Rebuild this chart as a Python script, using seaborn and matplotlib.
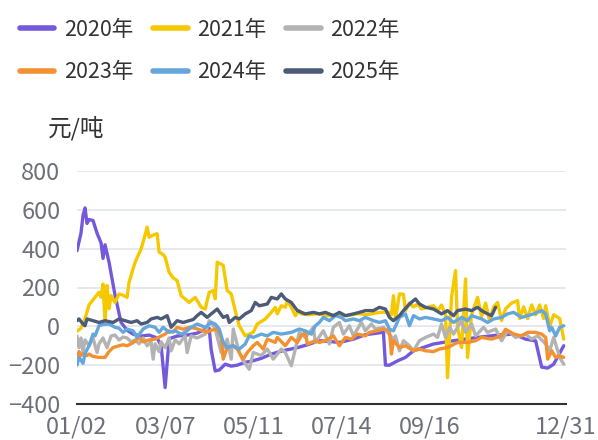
import pandas as pd
import matplotlib
matplotlib.use("Agg")
import matplotlib.pyplot as plt
from matplotlib.lines import Line2D
import seaborn as sns

# series names and colours
years = ["2020年", "2021年", "2022年", "2023年", "2024年", "2025年"]
colors = ["#7459dc", "#f5c800", "#b3b3b3", "#f39130", "#65a6dc", "#4c5b78"]

# x = trading-day index within the year, y = 元/吨
x20 = [0, 2, 3, 4, 5, 6, 8, 10, 12, 13, 14, 16, 19, 22, 25, 28, 32, 36, 40, 42,
       44, 46, 50, 55, 60, 63, 66, 67, 69, 71, 74, 77, 80, 84, 87, 92, 97, 103, 110, 115,
       121, 126, 131, 138, 144, 150, 153, 154, 156, 160, 164, 168, 178, 188, 200, 210, 218, 224, 229, 232,
       235, 238, 243]
y20 = [390, 480, 570, 610, 530, 550, 545, 480, 430, 350, 420, 330, 160, 20, -20, -40, -50, -45, -60, -100,
       -315, -64, -50, -45, -35, -20, -10, -120, -230, -225, -195, -205, -200, -185, -180, -165, -143, -125, -110, -95,
       -74, -78, -83, -66, -43, -35, -30, -200, -200, -178, -160, -126, -91, -74, -57, -45, -40, -66, -75, -210,
       -215, -195, -100]

x21 = [0, 2, 4, 6, 9, 11, 12, 13, 14, 15, 16, 17, 19, 21, 23, 25, 26, 29, 32, 34,
       35, 36, 38, 40, 41, 43, 44, 46, 48, 50, 52, 54, 56, 57, 59, 62, 64, 66, 68, 69,
       70, 72, 73, 75, 77, 79, 81, 84, 88, 90, 94, 97, 99, 100, 102, 104, 105, 107, 109, 111,
       112, 116, 120, 125, 130, 135, 140, 145, 150, 155, 157, 158, 159, 161, 163, 164, 166, 168, 170, 172,
       175, 178, 180, 182, 184, 185, 187, 189, 190, 192, 194, 195, 197, 200, 202, 204, 206, 208, 210, 212,
       214, 217, 220, 221, 223, 225, 227, 229, 231, 233, 234, 236, 238, 241, 243]
y21 = [-25, -10, 40, 110, 150, 175, 150, 218, 20, 210, 91, 158, 123, 167, 160, 149, 227, 330, 399, 470,
       511, 459, 470, 477, 382, 370, 356, 278, 250, 235, 158, 141, 123, 132, 149, 98, 89, 175, 184, 142,
       330, 320, 313, 184, 167, 81, 3, -49, -31, 12, 38, 72, 98, 64, 106, 98, 132, 98, 55, 81,
       64, 60, 65, 55, 60, 55, 65, 60, 70, 75, 60, 158, 39, 167, 165, 81, 120, 100, 115, 90,
       98, 106, 80, 110, 60, -264, 150, 287, -5, -109, 244, -160, 60, 149, 50, 120, 30, 100, 123, 30,
       90, 120, 132, 40, 100, 40, 110, 60, 110, 40, 106, 0, 60, 40, -66]

x22 = [0, 1, 2, 3, 4, 6, 8, 10, 11, 13, 15, 17, 19, 21, 23, 25, 27, 29, 31, 33,
       35, 37, 38, 39, 41, 42, 44, 46, 47, 49, 51, 54, 55, 57, 60, 64, 66, 67, 69, 72,
       75, 77, 78, 81, 83, 86, 88, 92, 95, 98, 102, 104, 107, 109, 111, 114, 118, 119, 123, 126,
       128, 131, 133, 136, 138, 142, 144, 147, 149, 153, 155, 158, 159, 161, 163, 166, 168, 171, 174, 178,
       180, 182, 184, 186, 188, 192, 194, 197, 199, 203, 205, 209, 212, 215, 219, 224, 227, 230, 234, 236,
       238, 241, 243]
y22 = [-50, -110, -60, -130, -70, -100, -60, -135, -90, -60, -110, -50, -45, -70, -55, -60, -80, -70, -90, -60,
       -100, -80, -169, -90, -130, -80, -110, -60, -126, -70, -90, -49, -135, -49, -60, -40, 29, 20, -14, -135,
       -66, -169, -14, -135, -178, -221, -135, -150, -117, -169, -117, -135, -203, -117, -31, -57, -5, -83, -23, -91,
       -5, 20, -40, 3, -49, 20, -23, 12, -14, -5, -31, -66, -49, -126, -74, -100, -126, -74, -57, -40,
       -57, 12, -57, -5, -40, 29, -31, 12, -49, -5, -31, -14, -74, -23, -57, -40, -66, -49, -91, -126,
       -57, -160, -195]

x23 = [0, 1, 2, 3, 5, 6, 8, 11, 14, 16, 18, 21, 23, 25, 28, 31, 33, 36, 39, 42,
       44, 46, 48, 50, 53, 56, 59, 62, 65, 67, 70, 72, 73, 75, 78, 80, 83, 85, 88, 90,
       93, 95, 99, 100, 104, 107, 110, 112, 114, 115, 119, 121, 124, 128, 131, 134, 137, 140, 144, 146,
       150, 153, 156, 157, 158, 161, 164, 168, 171, 174, 178, 181, 185, 190, 195, 199, 202, 207, 212, 214,
       218, 222, 225, 229, 232, 234, 235, 237, 239, 241, 243]
y23 = [-190, -130, -150, -140, -150, -143, -155, -160, -160, -130, -109, -100, -95, -100, -85, -57, -80, -70, -66, -50,
       -40, -23, -30, -5, -15, -5, -10, -20, -30, -20, -14, -60, -169, -109, -100, -117, -169, -135, -100, -83,
       -117, -66, -83, -57, -100, -57, -83, -49, -31, -91, -74, -83, -74, -49, -100, -57, -66, -40, -49, -31,
       -23, -14, -23, -143, -74, -109, -100, -126, -117, -126, -130, -117, -109, -83, -83, -74, -57, -66, -49, -15,
       -40, -49, -31, -31, -40, -57, -169, -126, -160, -152, -160]

x24 = [0, 1, 3, 4, 6, 8, 9, 11, 13, 16, 19, 21, 23, 25, 28, 30, 33, 36, 39, 41,
       43, 46, 49, 52, 54, 57, 60, 64, 67, 69, 71, 73, 75, 78, 81, 84, 86, 88, 92, 95,
       98, 102, 107, 111, 114, 117, 119, 121, 123, 126, 129, 132, 134, 138, 141, 144, 148, 151, 154, 156,
       158, 161, 164, 166, 168, 171, 174, 178, 182, 185, 188, 192, 195, 197, 202, 205, 208, 212, 215, 218,
       222, 225, 228, 232, 234, 236, 237, 239, 241, 243]
y24 = [-200, -160, -190, -140, -100, -40, -49, 3, 10, 12, -5, -10, -31, -14, -23, -57, -14, 3, -5, -31,
       -5, -31, -23, -40, -31, -5, 12, -5, 20, 12, -14, -83, -109, -100, -117, -91, -49, -57, -40, -49,
       -31, -40, -31, -14, -23, -40, 3, 20, 46, 29, 55, 46, 29, 38, 29, 46, 29, 20, 29, -14,
       -23, 46, 64, 3, 55, 38, 46, 38, 29, 46, 20, 46, 29, 55, 38, 20, 38, 46, 64, 72,
       46, 55, 64, 81, 64, -23, -5, -49, -5, 3]

x25 = [0, 1, 3, 4, 5, 8, 11, 14, 18, 21, 24, 27, 30, 32, 35, 37, 40, 42, 45, 47,
       50, 53, 56, 58, 60, 62, 65, 67, 70, 73, 75, 76, 79, 81, 84, 87, 89, 91, 95, 97,
       100, 102, 104, 107, 110, 114, 118, 121, 124, 128, 131, 134, 138, 141, 144, 148, 151, 154, 156, 158,
       161, 163, 166, 169, 171, 174, 178, 182, 185, 188, 190, 194, 197, 200, 202, 205, 207, 209]
y25 = [29, 38, 12, 3, 38, 29, 20, 29, 20, 38, 29, 20, 29, 12, 20, 38, 46, 38, 55, -5,
       29, 20, 29, 35, 55, 72, 46, 64, 89, 46, 55, 20, 46, 38, 64, 81, 123, 106, 115, 149,
       141, 167, 141, 123, 81, 64, 72, 64, 72, 55, 72, 55, 64, 72, 81, 81, 98, 89, 46, 29,
       55, 81, 115, 141, 115, 98, 89, 64, 81, 55, 81, 89, 81, 98, 81, 64, 55, 98]

tick_pos = [0, 44, 88, 132, 176, 220, 244]
tick_labels = ["01/02", "03/07", "05/11", "07/14", "09/16", "", "12/31"]

frames = []
for name, xs, ys in zip(years, [x20, x21, x22, x23, x24, x25], [y20, y21, y22, y23, y24, y25]):
    frames.append(pd.DataFrame({"idx": xs, "value": ys, "year": name}))
df = pd.concat(frames, ignore_index=True)

sns.set_style("white")
plt.rcParams["font.family"] = ["Noto Sans CJK SC", "DejaVu Sans"]

fig = plt.figure(figsize=(5.98, 4.40), dpi=100)
ax = fig.add_axes([77 / 598, 36 / 440, 488.7 / 598, 233 / 440])
sns.lineplot(data=df, x="idx", y="value", hue="year", hue_order=years,
             palette=dict(zip(years, colors)), estimator=None, linewidth=2.4,
             legend=False, ax=ax)

ax.set_xlim(0, 244)
ax.set_ylim(-400, 800)
ax.set_yticks(range(-400, 801, 200))
ax.set_xticks(tick_pos)
ax.set_xticklabels(tick_labels)
ax.set_xlabel("")
ax.set_ylabel("")
ax.grid(axis="y", color="#dfe2ec", linewidth=1.1)
ax.grid(axis="x", visible=False)
ax.set_axisbelow(True)
for s in ["top", "right", "left"]:
    ax.spines[s].set_visible(False)
ax.spines["bottom"].set_color("#333333")
ax.spines["bottom"].set_linewidth(1.5)
ax.tick_params(axis="y", length=0, pad=12, labelsize=17, labelcolor="#6e7079")
ax.tick_params(axis="x", length=6.5, width=1.5, color="#333333", direction="out",
               pad=2, labelsize=17, labelcolor="#6e7079")

fig.text(48 / 598, 1 - 128 / 440, "元/吨", fontsize=17, color="#333333", va="center", ha="left")

handles = [Line2D([0], [0], color=c, linewidth=4) for c in colors]
order = [0, 3, 1, 4, 2, 5]
fig.legend([handles[i] for i in order], [years[i] for i in order], ncol=3,
           loc="upper left", bbox_to_anchor=(20 / 598, 1 - 19 / 440), frameon=False,
           fontsize=15.5, handlelength=1.6, handletextpad=0.46, columnspacing=0.9,
           labelspacing=0.95, borderaxespad=0, borderpad=0, labelcolor="#333333")

fig.savefig("out.png", dpi=100)
